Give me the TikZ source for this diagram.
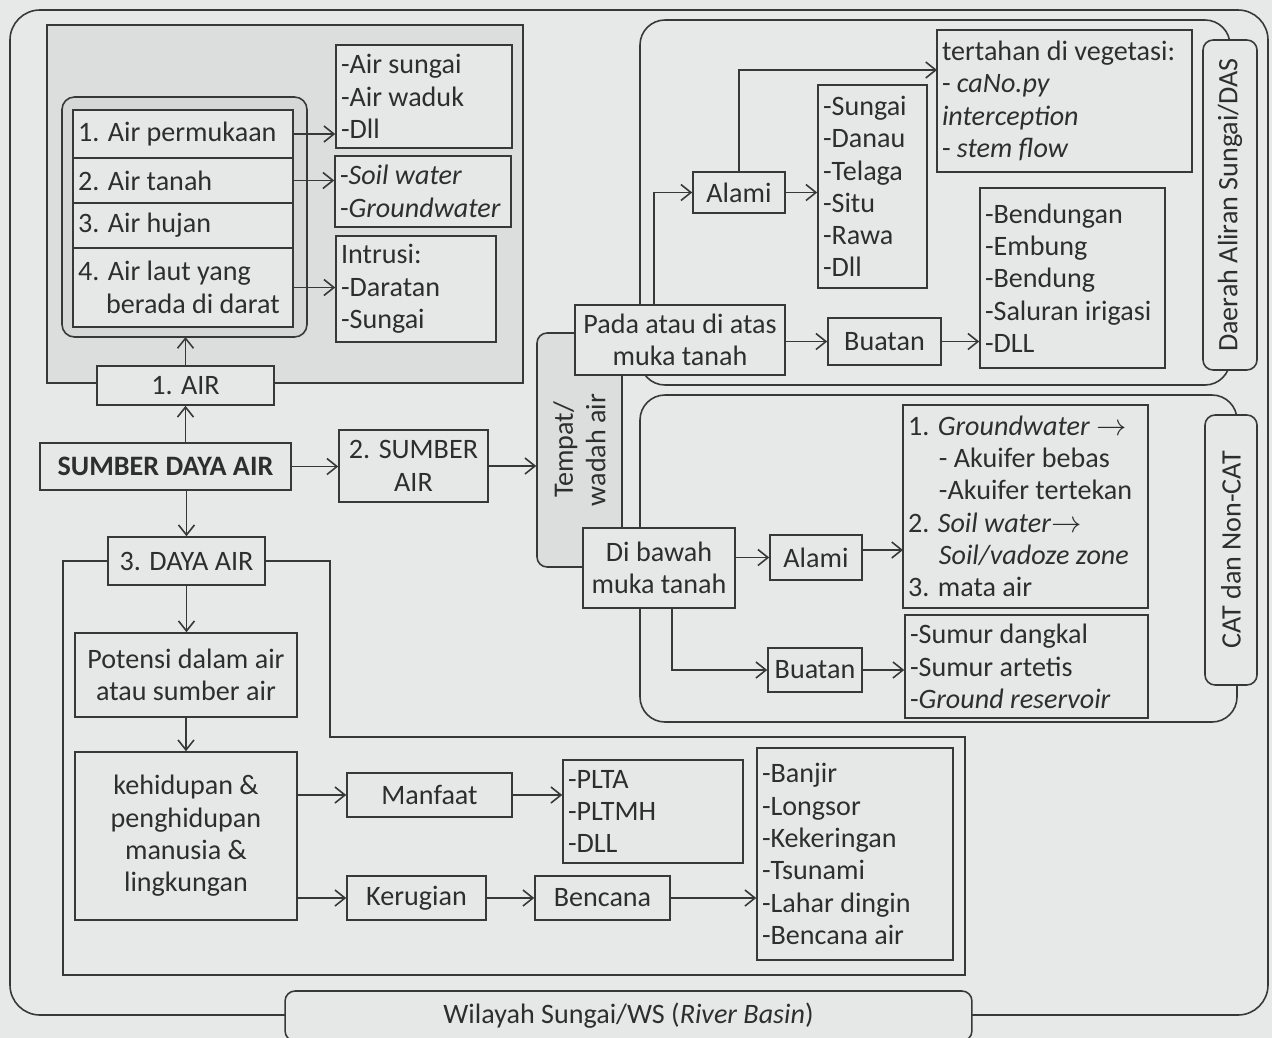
\documentclass[tikz,border=0pt]{standalone}
\usepackage{fontspec}
\setmainfont{Carlito}
\usetikzlibrary{arrows.meta}
\definecolor{bg}{HTML}{E7E8E8}
\definecolor{bgdark}{HTML}{DCDDDD}
\definecolor{inbox}{HTML}{D6D7D7}
\definecolor{boxc}{HTML}{E6E7E7}
\definecolor{ln}{HTML}{383838}
\definecolor{txt}{HTML}{2E2E2E}
\newcommand\bxn[7]{%
 \pgfmathsetlengthmacro\bw{(#4-#2)*0.02cm}%
 \pgfmathsetlengthmacro\bh{(#5-#3)*0.02cm}%
 \pgfmathsetlengthmacro\tw{(#4-#2-10)*0.02cm}%
 \node[#6, minimum width=\bw, minimum height=\bh] (#1) at ({(#2+#4)/2},{(#3+#5)/2}) {#7};}
\begin{document}
\begin{tikzpicture}[x=0.02cm,y=-0.02cm, font=\fontsize{16}{18.4}\selectfont, text=txt,
 bx/.style={draw=ln, line width=0.9pt, fill=boxc, inner sep=0pt},
 lst/.style={bx, text width=\tw, align=flush left, inner xsep=0.1cm},
 ctr/.style={bx, align=center},
 arr/.style={draw=ln, line width=0.9pt, -{Straight Barb[length=2mm,width=3.2mm]}},
 frame/.style={draw=ln, line width=0.9pt}]
\fill[bg] (0,0) rectangle (1272,1038);
\useasboundingbox (0,0) rectangle (1272,1038);
% outer frame
\draw[frame, rounded corners=0.6cm] (10,10) rectangle (1268,1015);
% AIR region
\filldraw[frame, fill=bgdark] (47,25) rectangle (523,383);
\filldraw[frame, fill=inbox, rounded corners=0.25cm] (62,97) rectangle (307,337);
\coordinate (inb) at (184.5,337);
\bxn{i1}{73}{110}{293}{158}{lst}{1. Air permukaan}
\bxn{i2}{73}{158}{293}{203}{lst}{2. Air tanah}
\bxn{i3}{73}{203}{293}{248}{lst}{3. Air hujan}
\bxn{i4}{73}{248}{293}{327}{lst}{4. Air laut yang\\\hspace*{1.0em}\mbox{berada di darat}}
\bxn{l1}{336}{45}{512}{148}{lst}{-Air sungai\\-Air waduk\\-Dll}
\bxn{l2}{335}{156}{511}{227}{lst}{-\textit{Soil water}\\-\textit{Groundwater}}
\bxn{l3}{336}{236}{496}{342}{lst}{Intrusi:\\-Daratan\\-Sungai}
\draw[arr] (i1.east) -- (i1.east -| l1.west);
\draw[arr] (i2.east) -- (i2.east -| l2.west);
\draw[arr] (i4.east) -- (i4.east -| l3.west);
\bxn{air}{97}{366}{274}{405}{ctr}{1. AIR}
\draw[arr] (air.north) -- (air.north |- inb);
% main
\bxn{sda}{40}{443}{291}{490}{ctr}{\bfseries SUMBER DAYA AIR}
\bxn{sumber}{339}{430}{488}{502}{ctr}{2. SUMBER\\AIR}
\bxn{daya}{108}{537}{265}{585}{ctr}{3. DAYA AIR}
\draw[arr] (air.south |- sda.north) -- (air.south);
\draw[arr] (daya.north |- sda.south) -- (daya.north);
\draw[arr] (sda.east) -- (sda.east -| sumber.west);
% DAS frame
\draw[frame, rounded corners=0.5cm] (640,20) rectangle (1230,385);
\node[draw=ln, line width=0.9pt, fill=boxc, rounded corners=0.2cm, rotate=90, minimum width=6.6cm, minimum height=1.08cm, inner sep=0pt] (das) at (1230,205) {Daerah Aliran Sungai/DAS};
% CAT frame
\draw[frame, rounded corners=0.5cm] (640,395) rectangle (1237,722);
\node[draw=ln, line width=0.9pt, fill=boxc, rounded corners=0.2cm, rotate=90, minimum width=5.4cm, minimum height=1.04cm, inner sep=0pt] (cat) at (1231,550) {CAT dan Non-CAT};
% Tempat
\node[draw=ln, line width=0.9pt, fill=bgdark, rounded corners=0.2cm, rotate=90, minimum width=4.68cm, minimum height=1.7cm, inner sep=0pt, align=center] (tempat) at (579.5,450) {Tempat/\\wadah air};
\draw[arr] (sumber.east) -- (sumber.east -| tempat.north);
% upper part
\bxn{pada}{575}{305}{785}{375}{ctr}{Pada atau di atas\\muka tanah}
\bxn{alami}{693}{172}{785}{213}{ctr}{Alami}
\bxn{sungai}{818}{85}{927}{288}{lst}{-Sungai\\-Danau\\-Telaga\\-Situ\\-Rawa\\-Dll}
\bxn{tert}{937}{30}{1192}{172}{lst}{tertahan di vegetasi:\\- \textit{caNo.py}\\\textit{interception}\\- \textit{stem flow}}
\bxn{buatan}{828}{318}{941}{365}{ctr}{Buatan}
\bxn{bend}{980}{188}{1165}{368}{lst}{-Bendungan\\-Embung\\-Bendung\\-Saluran irigasi\\-DLL}
\coordinate (tin) at (937,70);
\draw[arr] ([xshift=1.6cm]pada.north west) |- (alami.west);
\draw[arr] (alami.north) |- (tin);
\draw[arr] (alami.east) -- (alami.east -| sungai.west);
\draw[arr] (pada.east |- buatan.west) -- (buatan.west);
\draw[arr] (buatan.east) -- (buatan.east -| bend.west);
% lower part
\bxn{bawah}{583}{528}{735}{608}{ctr}{Di bawah\\muka tanah}
\bxn{alami2}{770}{535}{862}{580}{ctr}{Alami}
\bxn{gw}{903}{405}{1148}{608}{lst}{1. \textit{Groundwater} $\rightarrow$\\\hspace*{1.1em}- Akuifer bebas\\\hspace*{1.1em}-Akuifer tertekan\\2. \textit{Soil water}$\rightarrow$\\\hspace*{1.1em}\textit{Soil/vadoze zone}\\3. mata air}
\bxn{buatan2}{768}{648}{862}{692}{ctr}{Buatan}
\bxn{sumur}{905}{615}{1148}{718}{lst}{-Sumur dangkal\\-Sumur artetis\\-\textit{Ground reservoir}}
\draw[arr] (alami2.west -| bawah.east) -- (alami2.west);
\coordinate (gwin) at (903,550);
\draw[arr] (alami2.east |- gwin) -- (gwin);
\draw[arr] ([xshift=0.26cm]bawah.south) |- (buatan2.west);
\draw[arr] (buatan2.east) -- (buatan2.east -| sumur.west);
% DAYA region
\draw[frame] (daya.west) -- (63,561) -- (63,975) -- (965,975) -- (965,737) -- (330,737) -- (330,561) -- (daya.east);
\bxn{pot}{75}{633}{297}{717}{ctr}{Potensi dalam air\\atau sumber air}
\bxn{keh}{75}{752}{297}{920}{ctr}{kehidupan \&\\penghidupan\\manusia \&\\lingkungan}
\bxn{manfaat}{347}{773}{512}{817}{ctr}{Manfaat}
\bxn{plta}{563}{760}{743}{863}{lst}{-PLTA\\-PLTMH\\-DLL}
\bxn{rugi}{347}{876}{486}{920}{ctr}{Kerugian}
\bxn{bencana}{535}{876}{670}{920}{ctr}{Bencana}
\bxn{banjir}{757}{748}{953}{960}{lst}{-Banjir\\-Longsor\\-Kekeringan\\-Tsunami\\-Lahar dingin\\-Bencana air}
\draw[arr] (daya.south) -- (daya.south |- pot.north);
\draw[arr] (pot.south) -- (keh.north);
\draw[arr] (manfaat.west -| keh.east) -- (manfaat.west);
\draw[arr] (manfaat.east) -- (manfaat.east -| plta.west);
\draw[arr] (rugi.west -| keh.east) -- (rugi.west);
\draw[arr] (rugi.east) -- (bencana.west);
\draw[arr] (bencana.east) -- (bencana.east -| banjir.west);
% title
\node[draw=ln, line width=0.9pt, fill=boxc, rounded corners=0.2cm, minimum width=13.74cm, minimum height=1.0cm, inner sep=0pt] (title) at (628.5,1016) {Wilayah Sungai/WS (\textit{River Basin})};
\end{tikzpicture}
\end{document}
